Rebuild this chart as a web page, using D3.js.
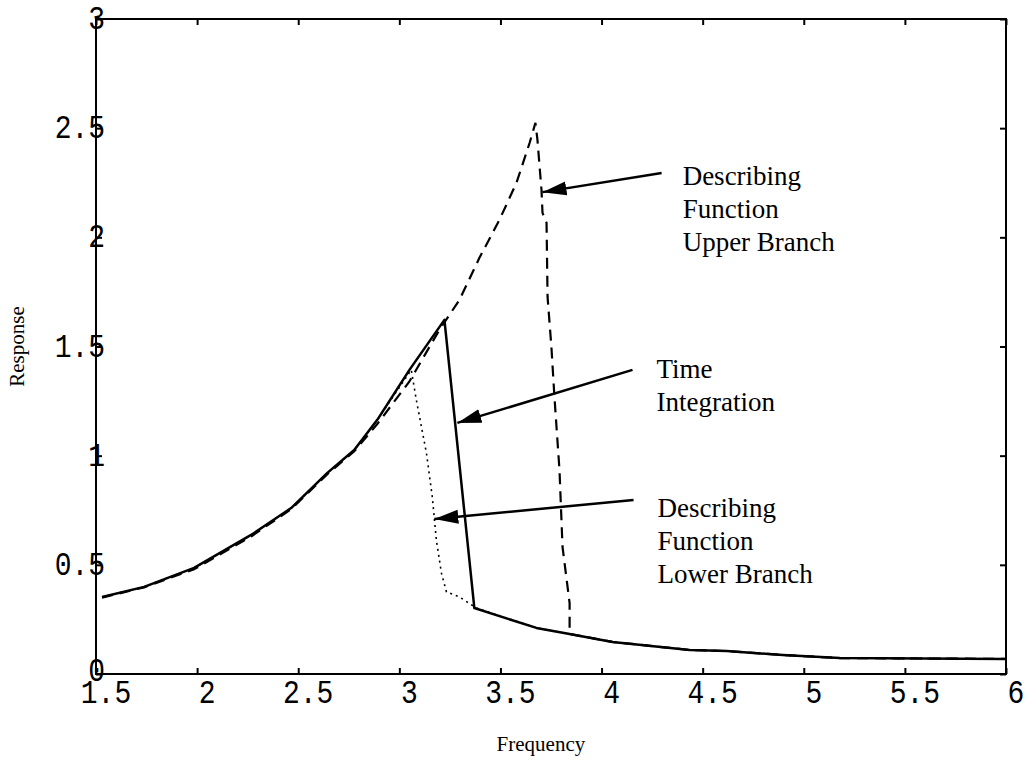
<!DOCTYPE html>
<html>
<head>
<meta charset="utf-8">
<script src="https://cdnjs.cloudflare.com/ajax/libs/d3/7.8.5/d3.min.js"></script>
<style>
   body { margin: 0; background: #fff; }
   .ticklabel { font-family: "Liberation Mono", monospace; font-size: 28px; fill: #000; }
   .title { font-family: "Liberation Serif", "Times New Roman", serif; font-size: 21px; fill: #000; }
   .note { font-family: "Liberation Serif", "Times New Roman", serif; font-size: 27px; fill: #000; }
</style>
</head>
<body>
<div id="plotContainer"></div>
<script>
// time integration (solid)
var timeFreq = [1.53, 1.738, 1.985, 2.267, 2.465, 2.644, 2.777, 2.891, 3.05, 3.223, 3.371, 3.678, 3.842, 4.054, 4.436, 4.619, 4.896, 5.178, 6.0];
var timeResp = [0.353, 0.399, 0.486, 0.637, 0.760, 0.921, 1.026, 1.164, 1.393, 1.622, 0.302, 0.211, 0.183, 0.147, 0.110, 0.105, 0.087, 0.073, 0.069];

// describing function, upper branch (dashed)
var upperFreq = [1.53, 1.738, 1.985, 2.267, 2.465, 2.644, 2.777, 2.891, 3.05, 3.198, 3.297, 3.396, 3.495, 3.579, 3.644, 3.673, 3.683, 3.703, 3.708, 3.728, 3.733, 3.752, 3.767, 3.792, 3.807, 3.842, 3.842, 4.054, 4.436, 4.619, 4.896, 5.178, 6.0];
var upperResp = [0.35, 0.397, 0.48, 0.630, 0.755, 0.915, 1.02, 1.145, 1.34, 1.576, 1.713, 1.906, 2.080, 2.249, 2.432, 2.524, 2.446, 2.217, 2.112, 2.066, 1.727, 1.498, 1.269, 0.934, 0.582, 0.325, 0.183, 0.147, 0.110, 0.105, 0.087, 0.073, 0.069];

// describing function, lower branch (dotted)
var lowerFreq = [1.53, 1.738, 1.985, 2.267, 2.465, 2.644, 2.777, 2.891, 3.059, 3.084, 3.134, 3.163, 3.183, 3.208, 3.233, 3.297, 3.381, 3.678, 3.842, 4.054, 4.436, 4.619, 4.896, 5.178, 6.0];
var lowerResp = [0.353, 0.399, 0.486, 0.637, 0.760, 0.921, 1.026, 1.164, 1.393, 1.255, 1.012, 0.811, 0.614, 0.463, 0.376, 0.353, 0.302, 0.211, 0.183, 0.147, 0.110, 0.105, 0.087, 0.073, 0.069];

var xTicks = [1.5, 2, 2.5, 3, 3.5, 4, 4.5, 5, 5.5, 6];
var xTickLabels = ["1.5", "2", "2.5", "3", "3.5", "4", "4.5", "5", "5.5", "6"];
var yTicks = [0, 0.5, 1, 1.5, 2, 2.5, 3];
var yTickLabels = ["0", "0.5", "1", "1.5", "2", "2.5", "3"];

var noteLabels = [
   ["Describing", "Function", "Upper Branch"],
   ["Time", "Integration"],
   ["Describing", "Function", "Lower Branch"]
];

var width = 1034;
var height = 761;
var margin = { top: 19, left: 96, bottom: 87, right: 28 };
var plotW = width - margin.left - margin.right;
var plotH = height - margin.top - margin.bottom;

var xScale = d3.scaleLinear().domain([1.5, 6]).range([0, plotW]);
var yScale = d3.scaleLinear().domain([0, 3]).range([plotH, 0]);

var svg = d3.select("#plotContainer")
   .append("svg")
   .attr("width", width)
   .attr("height", height);

// arrow head
svg.append("defs").append("marker")
   .attr("id", "head")
   .attr("markerUnits", "userSpaceOnUse")
   .attr("markerWidth", 26)
   .attr("markerHeight", 16)
   .attr("refX", 24)
   .attr("refY", 8)
   .attr("orient", "auto")
   .append("path")
   .attr("d", "M0,1 L24,8 L0,15 Z")
   .attr("fill", "#000");

var focus = svg.append("g")
   .attr("transform", "translate(" + margin.left + "," + margin.top + ")");

// frame
focus.append("rect")
   .attr("width", plotW)
   .attr("height", plotH)
   .attr("fill", "none")
   .attr("stroke", "#000")
   .attr("stroke-width", 2);

// inward ticks on every side
var tickLen = 6;
var xAxisB = d3.axisBottom(xScale).tickValues(xTicks).tickSize(-tickLen).tickFormat("");
var xAxisT = d3.axisTop(xScale).tickValues(xTicks).tickSize(-tickLen).tickFormat("");
var yAxisL = d3.axisLeft(yScale).tickValues(yTicks).tickSize(-tickLen).tickFormat("");
var yAxisR = d3.axisRight(yScale).tickValues(yTicks).tickSize(-tickLen).tickFormat("");

focus.append("g").attr("transform", "translate(0," + plotH + ")").call(xAxisB);
focus.append("g").call(xAxisT);
focus.append("g").call(yAxisL);
focus.append("g").attr("transform", "translate(" + plotW + ",0)").call(yAxisR);
focus.selectAll(".domain").remove();
focus.selectAll(".tick line").attr("stroke", "#000").attr("stroke-width", 2);

// tick labels, tall monospace digits sitting over the frame
focus.selectAll(".xlab")
   .data(xTicks)
   .enter().append("text")
   .attr("class", "ticklabel")
   .attr("text-anchor", "middle")
   .attr("transform", function (d) { return "translate(" + (xScale(d) + 10) + "," + (plotH + 29) + ") scale(1,1.2)"; })
   .text(function (d, i) { return xTickLabels[i]; });

focus.selectAll(".ylab")
   .data(yTicks)
   .enter().append("text")
   .attr("class", "ticklabel")
   .attr("text-anchor", "end")
   .attr("transform", function (d) { return "translate(9," + (yScale(d) + (d === 0 ? 7 : 10)) + ") scale(1,1.2)"; })
   .text(function (d, i) { return yTickLabels[i]; });

// axis titles
svg.append("text")
   .attr("class", "title")
   .attr("text-anchor", "middle")
   .attr("x", margin.left + xScale(3.7))
   .attr("y", 751)
   .text("Frequency");

svg.append("text")
   .attr("class", "title")
   .attr("text-anchor", "middle")
   .attr("transform", "translate(24," + (margin.top + yScale(1.5)) + ") rotate(-90)")
   .text("Response");

// define the lines
function makeLine(fx, fy) {
   return d3.line()
      .x(function (d, i) { return xScale(fx[i]); })
      .y(function (d, i) { return yScale(fy[i]); })(fx);
}

focus.append("path")
   .attr("d", makeLine(lowerFreq, lowerResp))
   .attr("fill", "none")
   .attr("stroke", "#000")
   .attr("stroke-width", 1.6)
   .attr("stroke-dasharray", "2,4");

focus.append("path")
   .attr("d", makeLine(upperFreq, upperResp))
   .attr("fill", "none")
   .attr("stroke", "#000")
   .attr("stroke-width", 2.2)
   .attr("stroke-dasharray", "11,7");

focus.append("path")
   .attr("d", makeLine(timeFreq, timeResp))
   .attr("fill", "none")
   .attr("stroke", "#000")
   .attr("stroke-width", 2.5)
   .attr("stroke-linejoin", "round");

// annotations: text anchor and arrow in data units
var notePos = [
   { x: 4.401, y: 2.240, ax: 4.297, ay: 2.295, tx: 3.708, ty: 2.207 },
   { x: 4.272, y: 1.356, ax: 4.153, ay: 1.393, tx: 3.287, ty: 1.150 },
   { x: 4.277, y: 0.719, ax: 4.158, ay: 0.797, tx: 3.173, ty: 0.710 }
];

notePos.forEach(function (p, k) {
   focus.append("line")
      .attr("x1", xScale(p.ax))
      .attr("y1", yScale(p.ay))
      .attr("x2", xScale(p.tx))
      .attr("y2", yScale(p.ty))
      .attr("stroke", "#000")
      .attr("stroke-width", 2.5)
      .attr("marker-end", "url(#head)");

   var t = focus.append("text")
      .attr("class", "note")
      .attr("x", xScale(p.x))
      .attr("y", yScale(p.y));
   noteLabels[k].forEach(function (s, j) {
      t.append("tspan")
         .attr("x", xScale(p.x))
         .attr("dy", j === 0 ? 0 : 33)
         .text(s);
   });
});
</script>
</body>
</html>
